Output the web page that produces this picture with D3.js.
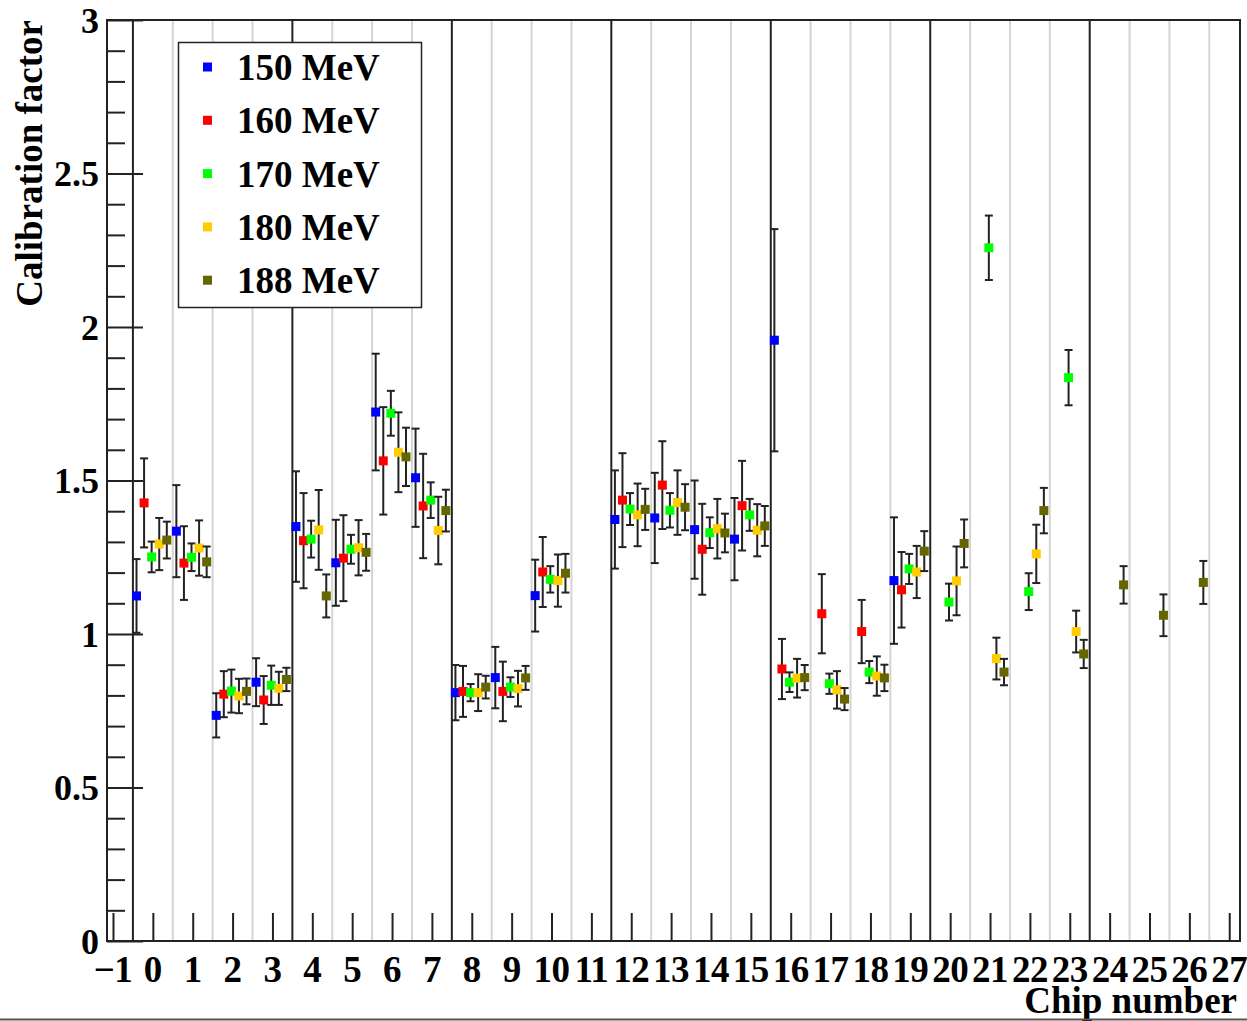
<!DOCTYPE html>
<html>
<head>
<meta charset="utf-8">
<script src="https://cdn.jsdelivr.net/npm/d3@7"></script>
<style>
  body { margin: 0; background: #fff; }
  text { font-family: "Liberation Serif", "Times New Roman", serif; font-weight: bold; fill: #000; }
</style>
</head>
<body>
<div id="d3"></div>
<script>
var width = 1247;
var height = 1021;

var chips = [0, 1, 2, 3, 4, 5, 6, 7, 8, 9, 10, 11, 12, 13, 14, 15, 16, 17, 18, 19, 20, 21, 22, 23, 24, 25, 26];
var energies = ["150 MeV", "160 MeV", "170 MeV", "180 MeV", "188 MeV"];
var colors = ["#0000ff", "#ff0000", "#00ff00", "#ffcc00", "#666600"];

var val150 = [1.124, 1.335, 0.735, 0.843, 1.350, 1.232, 1.723, 1.509, 0.809, 0.858, 1.125, null, 1.373, 1.378, 1.340, 1.309, 1.957, null, null, 1.174, null, null, null, null, null, null, null];
var err150 = [0.120, 0.150, 0.072, 0.078, 0.180, 0.140, 0.190, 0.160, 0.090, 0.100, 0.117, null, 0.160, 0.147, 0.160, 0.134, 0.362, null, null, 0.206, null, null, null, null, null, null, null];

var val160 = [1.427, 1.231, 0.804, 0.785, 1.304, 1.247, 1.564, 1.417, 0.813, 0.813, 1.202, null, 1.436, 1.485, 1.276, 1.418, 0.886, 1.066, 1.008, 1.144, null, null, null, null, null, null, null];
var err160 = [0.145, 0.120, 0.075, 0.078, 0.155, 0.140, 0.175, 0.170, 0.083, 0.097, 0.114, null, 0.153, 0.143, 0.148, 0.146, 0.098, 0.129, 0.103, 0.123, null, null, null, null, null, null, null];

var val170 = [1.251, 1.250, 0.814, 0.833, 1.309, 1.276, 1.719, 1.436, 0.809, 0.827, 1.178, null, 1.407, 1.403, 1.330, 1.388, 0.843, 0.838, 0.876, 1.212, 1.104, 2.258, 1.138, 1.835, null, null, null];
var err170 = [0.050, 0.045, 0.070, 0.064, 0.060, 0.047, 0.073, 0.058, 0.028, 0.032, 0.043, null, 0.052, 0.056, 0.050, 0.052, 0.032, 0.033, 0.036, 0.049, 0.060, 0.105, 0.060, 0.090, null, null, null];

var val180 = [1.293, 1.280, 0.798, 0.823, 1.339, 1.281, 1.592, 1.337, 0.809, 0.822, 1.174, null, 1.388, 1.428, 1.343, 1.338, 0.856, 0.818, 0.863, 1.202, 1.173, 0.920, 1.261, 1.008, null, null, null];
var err180 = [0.085, 0.090, 0.056, 0.054, 0.130, 0.090, 0.130, 0.110, 0.060, 0.058, 0.085, null, 0.102, 0.105, 0.097, 0.085, 0.063, 0.061, 0.064, 0.085, 0.112, 0.068, 0.095, 0.068, null, null, null];

var val188 = [1.306, 1.235, 0.813, 0.852, 1.124, 1.266, 1.577, 1.402, 0.827, 0.857, 1.198, null, 1.406, 1.413, 1.329, 1.352, 0.858, 0.788, 0.857, 1.270, 1.295, 0.876, 1.402, 0.935, 1.160, 1.061, 1.168];
var err188 = [0.060, 0.050, 0.042, 0.038, 0.070, 0.060, 0.095, 0.068, 0.037, 0.039, 0.063, null, 0.067, 0.075, 0.063, 0.065, 0.041, 0.036, 0.043, 0.065, 0.078, 0.043, 0.074, 0.046, 0.061, 0.068, 0.070];

var values = [val150, val160, val170, val180, val188];
var errors = [err150, err160, err170, err180, err188];
var xTicks = d3.range(-1, 28);
var yTicks = [0, 0.5, 1, 1.5, 2, 2.5, 3];

// each energy sits a bit off the chip centre
var offsets = [-0.41, -0.22, -0.03, 0.16, 0.35];

var fLeft = 107, fRight = 1240, fTop = 20, fBottom = 941;

var x = d3.scaleLinear().domain([-1.15, 27.27]).range([fLeft, fRight]);
var y = d3.scaleLinear().domain([0, 3]).range([fBottom, fTop]);

var svg = d3.select("#d3").append("svg")
  .attr("width", width)
  .attr("height", height);

// bin separators: grey every chip, black every 4 chips
var seps = d3.range(-0.5, 27, 1);
svg.append("g")
  .selectAll("line")
  .data(seps)
  .enter().append("line")
    .attr("x1", function(d) { return x(d); })
    .attr("x2", function(d) { return x(d); })
    .attr("y1", fTop)
    .attr("y2", fBottom)
    .attr("stroke", function(d) { return ((d + 0.5) % 4 === 0 && d < 24) ? "#222" : "#d4d4d4"; })
    .attr("stroke-width", 2);

// y axis
var yAxis = d3.axisRight(y)
  .tickValues(d3.range(0, 3.001, 0.1))
  .tickSize(18)
  .tickFormat("");
var gy = svg.append("g")
  .attr("transform", "translate(" + fLeft + ",0)")
  .call(yAxis);
gy.select(".domain").remove();
gy.selectAll(".tick line")
  .attr("stroke", "#222")
  .attr("stroke-width", 2)
  .attr("x2", function(d) { return Math.abs(d * 2 - Math.round(d * 2)) < 1e-6 ? 36 : 18; });

svg.append("g")
  .selectAll("text")
  .data(yTicks)
  .enter().append("text")
    .attr("x", 99)
    .attr("y", function(d) { return y(d); })
    .attr("dy", "0.35em")
    .attr("text-anchor", "end")
    .style("font-size", "36px")
    .text(function(d) { return d; });

// x axis
var xAxis = d3.axisTop(x)
  .tickValues(xTicks)
  .tickSize(28)
  .tickFormat("");
var gx = svg.append("g")
  .attr("transform", "translate(0," + fBottom + ")")
  .call(xAxis);
gx.select(".domain").remove();
gx.selectAll(".tick line")
  .attr("stroke", "#222")
  .attr("stroke-width", 2);

svg.append("g")
  .selectAll("text")
  .data(xTicks)
  .enter().append("text")
    .attr("x", function(d) { return x(d); })
    .attr("y", 982)
    .attr("text-anchor", "middle")
    .style("font-size", "37px")
    .style("letter-spacing", "-0.5px")
    .text(function(d) { return d < 0 ? "\u2212" + (-d) : d; });

// frame
svg.append("rect")
  .attr("x", fLeft)
  .attr("y", fTop)
  .attr("width", fRight - fLeft)
  .attr("height", fBottom - fTop)
  .attr("fill", "none")
  .attr("stroke", "#222")
  .attr("stroke-width", 2);

// titles
svg.append("text")
  .attr("transform", "translate(42," + fTop + ") rotate(-90)")
  .attr("text-anchor", "end")
  .style("font-size", "37px")
  .text("Calibration factor");

svg.append("text")
  .attr("x", 1237)
  .attr("y", 1013)
  .attr("text-anchor", "end")
  .style("font-size", "37px")
  .text("Chip number");

// points with error bars
var cap = 4;
energies.forEach(function(name, s) {
  var pts = chips
    .map(function(c, i) { return { chip: c, v: values[s][i], e: errors[s][i] }; })
    .filter(function(d) { return d.v !== null; });

  var g = svg.append("g").attr("class", "series");

  var bars = g.selectAll("g.bar")
    .data(pts)
    .enter().append("g")
      .attr("class", "bar")
      .attr("stroke", "#222")
      .attr("stroke-width", 2);

  bars.append("line")
    .attr("x1", function(d) { return x(d.chip + offsets[s]); })
    .attr("x2", function(d) { return x(d.chip + offsets[s]); })
    .attr("y1", function(d) { return y(d.v + d.e); })
    .attr("y2", function(d) { return y(d.v - d.e); });
  bars.append("line")
    .attr("x1", function(d) { return x(d.chip + offsets[s]) - cap; })
    .attr("x2", function(d) { return x(d.chip + offsets[s]) + cap; })
    .attr("y1", function(d) { return y(d.v + d.e); })
    .attr("y2", function(d) { return y(d.v + d.e); });
  bars.append("line")
    .attr("x1", function(d) { return x(d.chip + offsets[s]) - cap; })
    .attr("x2", function(d) { return x(d.chip + offsets[s]) + cap; })
    .attr("y1", function(d) { return y(d.v - d.e); })
    .attr("y2", function(d) { return y(d.v - d.e); });

  g.selectAll("rect")
    .data(pts)
    .enter().append("rect")
      .attr("x", function(d) { return x(d.chip + offsets[s]) - 4.5; })
      .attr("y", function(d) { return y(d.v) - 4.5; })
      .attr("width", 9)
      .attr("height", 9)
      .attr("fill", colors[s]);
});

// legend
var legend = svg.append("g");
legend.append("rect")
  .attr("x", 178.5)
  .attr("y", 42.5)
  .attr("width", 243)
  .attr("height", 265)
  .attr("fill", "#fff")
  .attr("stroke", "#222")
  .attr("stroke-width", 1.5);

var items = legend.selectAll("g.item")
  .data(energies)
  .enter().append("g")
    .attr("class", "item")
    .attr("transform", function(d, i) { return "translate(0," + (67 + i * 53.3) + ")"; });

items.append("rect")
  .attr("x", 203)
  .attr("y", -4.5)
  .attr("width", 9)
  .attr("height", 9)
  .attr("fill", function(d, i) { return colors[i]; });

items.append("text")
  .attr("x", 237)
  .attr("dy", "0.35em")
  .style("font-size", "37px")
  .text(function(d) { return d; });

// canvas border at bottom
svg.append("line")
  .attr("x1", 0).attr("x2", width)
  .attr("y1", 1019.5).attr("y2", 1019.5)
  .attr("stroke", "#555")
  .attr("stroke-width", 2);
</script>
</body>
</html>
